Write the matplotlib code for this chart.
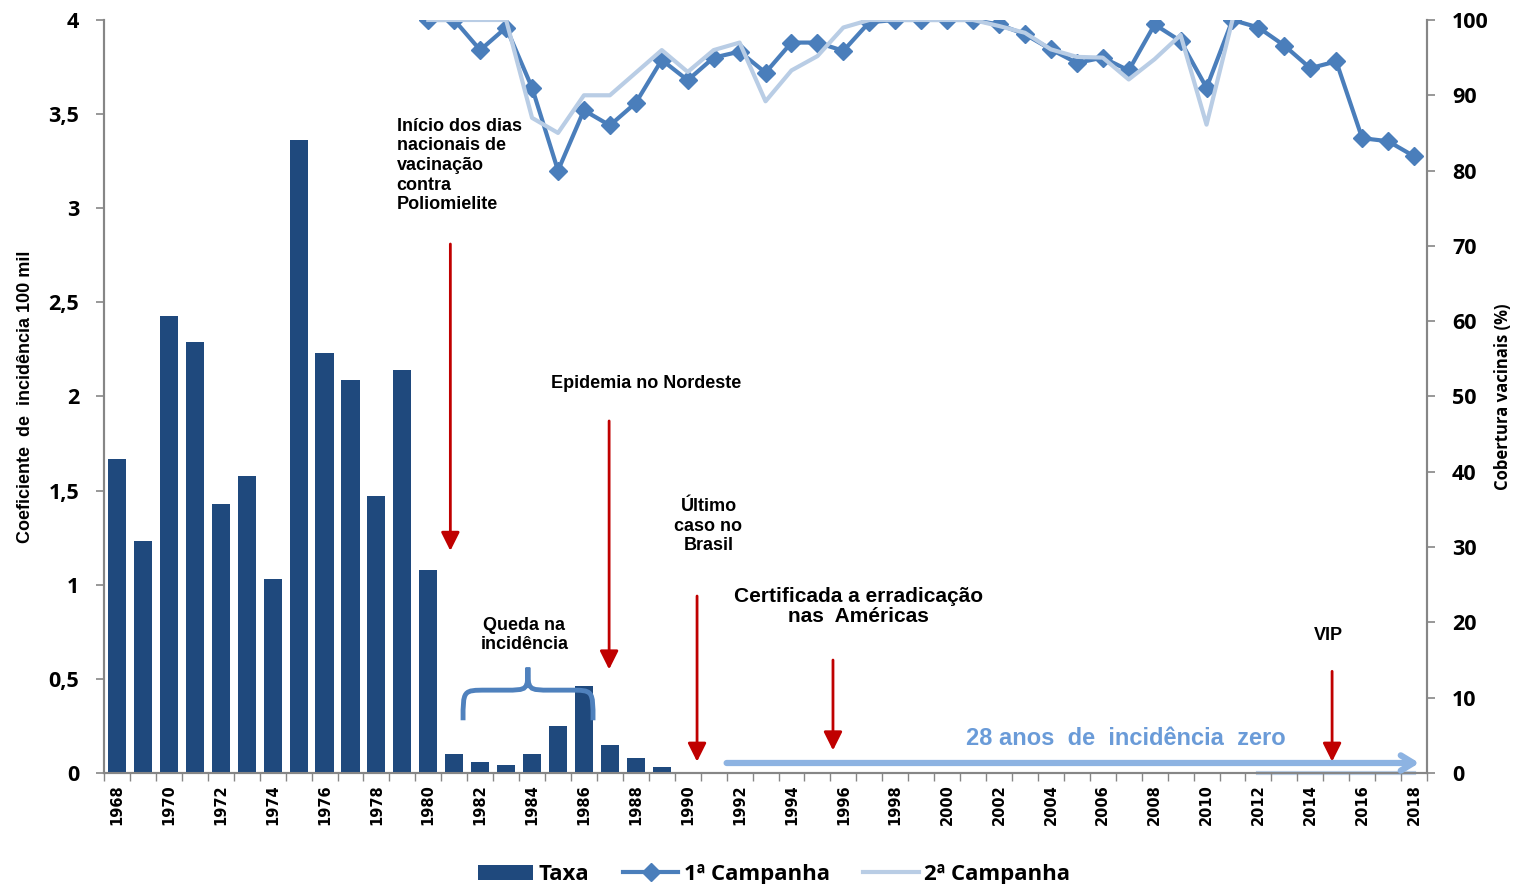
import numpy as np
import matplotlib
matplotlib.use('Agg')
import matplotlib.pyplot as plt
from matplotlib.path import Path
from matplotlib.patches import PathPatch

years = list(range(1968, 2019))

# incidence rate per 100 mil (1968-1989)
taxa = [1.67, 1.23, 2.43, 2.29, 1.43, 1.58, 1.03, 3.36, 2.23, 2.09, 1.47, 2.14,
        1.08, 0.10, 0.06, 0.04, 0.10, 0.25, 0.46, 0.15, 0.08, 0.03]

# coverage (%) 1980-2018
camp1 = [100, 100, 96, 99, 91, 80, 88, 86, 89, 94.7, 92, 95, 95.8, 93, 97, 97,
         95.9, 99.7, 100, 100, 100, 100, 99.4, 98.1, 96.1, 94.3, 95, 93.3, 99.4,
         97.2, 91, 100, 99, 96.6, 93.6, 94.5, 84.3, 83.9, 81.9]

# 2ª campanha 1980-2011, then zeros 2012-2018
camp2 = [100, 100, 100, 100, 87, 85, 90, 90, 93, 96, 93.1, 96, 97, 89.2, 93.3,
         95.2, 99, 100, 100, 100, 100, 100, 99.2, 98.3, 96.1, 95.1, 95, 92.1,
         94.8, 98, 86.1, 100]
camp2_zero = [0, 0, 0, 0, 0, 0, 0]

bar_color = '#1f497d'
c1 = '#4a7ebb'
c2 = '#b9cde5'
red = '#c00000'
grey = '#868686'
tick_font = 'Open Sans'

fig = plt.figure(figsize=(15.3, 8.84), dpi=100)
ax = fig.add_axes([0.068, 0.1256, 0.8647, 0.8518])
ax2 = ax.twinx()

x = np.arange(len(years))
ax.bar(x[:len(taxa)], taxa, width=0.7, color=bar_color, label='Taxa', zorder=2)

x1 = x[years.index(1980):]
ax2.plot(x1, camp1, color=c1, lw=3, marker='D', ms=9, label='1ª Campanha', zorder=3)
x2 = x[years.index(1980):years.index(1980) + len(camp2)]
ax2.plot(x2, camp2, color=c2, lw=3, label='2ª Campanha', zorder=4)
x2z = x[years.index(2012):]
ax2.plot(x2z, camp2_zero, color=c2, lw=3, zorder=4, clip_on=False)

ax.set_xlim(-0.5, len(years) - 0.5)
ax.set_ylim(0, 4)
ax2.set_ylim(0, 100)
ax.set_zorder(ax2.get_zorder() + 1)
ax.patch.set_visible(False)

yt = np.arange(0, 4.01, 0.5)
ax.set_yticks(yt)
ax.set_yticklabels([('%g' % v).replace('.', ',') for v in yt],
                   fontfamily=tick_font, fontweight='bold', fontsize=15.5)
ax2.set_yticks(range(0, 101, 10))
ax2.set_yticklabels([str(v) for v in range(0, 101, 10)],
                    fontfamily=tick_font, fontweight='bold', fontsize=15.5)

ax.set_xticks(x[::2])
ax.set_xticklabels([str(y) for y in years[::2]], rotation=90,
                   fontweight='bold', fontsize=10.5)
ax.set_xticks(np.arange(-0.5, len(years), 1), minor=True)
ax.tick_params(axis='x', which='major', length=0, pad=8)
ax.tick_params(axis='x', which='minor', length=6, color=grey, width=1)
ax.tick_params(axis='y', length=6, color=grey, width=1.2, pad=12)
ax2.tick_params(axis='y', length=6, color=grey, width=1.2, pad=12)

for a in (ax, ax2):
    a.spines['top'].set_visible(False)
    for s in ('left', 'right', 'bottom'):
        a.spines[s].set_color(grey)
        a.spines[s].set_linewidth(1.5)

ax.set_ylabel('Coeficiente  de  incidência 100 mil', fontfamily='Liberation Sans',
              fontweight='bold', fontsize=13, labelpad=10)
ax2.set_ylabel('Cobertura vacinais (%)', fontfamily=tick_font,
               fontweight='bold', fontsize=12, labelpad=4)

# annotations
txt = dict(fontfamily='Liberation Sans', fontweight='bold', color='black')
ax.text(10.78, 3.48, 'Início dos dias\nnacionais de\nvacinação\ncontra\nPoliomielite',
        ha='left', va='top', fontsize=13, linespacing=1.2, **txt)
ax.text(20.4, 2.07, 'Epidemia no Nordeste', ha='center', va='center', fontsize=13, **txt)
ax.text(22.8, 1.46, 'Último\ncaso no\nBrasil', ha='center', va='top', fontsize=13,
        linespacing=1.2, **txt)
ax.text(28.6, 0.99, 'Certificada a erradicação\nnas  Américas', ha='center', va='top',
        fontsize=15, linespacing=1.1, **txt)
ax.text(46.7, 0.73, 'VIP', ha='center', va='center', fontsize=13, **txt)
ax.text(15.7, 0.83, 'Queda na\nincidência', ha='center', va='top', fontsize=13,
        linespacing=1.2, **txt)
ax.text(38.9, 0.185, '28 anos  de  incidência  zero', ha='center', va='center',
        fontsize=17, fontfamily='Liberation Sans', fontweight='bold', color='#6a9bd8')

arrow = dict(arrowstyle='-|>', color=red, lw=2, mutation_scale=28, shrinkA=0, shrinkB=0)
for xa, y0, y1 in [(12.85, 2.81, 1.18), (18.97, 1.87, 0.55), (22.36, 0.94, 0.06),
                   (27.6, 0.60, 0.12), (46.84, 0.54, 0.06)]:
    ax.annotate('', xy=(xa, y1), xytext=(xa, y0), arrowprops=arrow)

ax.annotate('', xy=(50.2, 0.053), xytext=(23.5, 0.053),
            arrowprops=dict(arrowstyle='->, head_length=0.9, head_width=0.55',
                            color='#8db3e2', lw=4.5, shrinkA=0, shrinkB=0),
            annotation_clip=False)

# brace over 1981-1986
xl, xm, xr = 13.34, 15.84, 18.35
yb, yh, yt_ = 0.28, 0.44, 0.56
verts = [(xl, yb), (xl, yh), (xl, yh), (xl + 0.9, yh),
         (xm - 0.9, yh),
         (xm, yh), (xm, yh), (xm, yt_),
         (xm, yh), (xm, yh), (xm + 0.9, yh),
         (xr - 0.9, yh),
         (xr, yh), (xr, yh), (xr, yb)]
codes = [Path.MOVETO, Path.CURVE4, Path.CURVE4, Path.CURVE4,
         Path.LINETO,
         Path.CURVE4, Path.CURVE4, Path.CURVE4,
         Path.CURVE4, Path.CURVE4, Path.CURVE4,
         Path.LINETO,
         Path.CURVE4, Path.CURVE4, Path.CURVE4]
ax.add_patch(PathPatch(Path(verts, codes), fill=False, edgecolor='#4f81bd', lw=3.5, zorder=5))

h1, l1 = ax.get_legend_handles_labels()
h2, l2 = ax2.get_legend_handles_labels()
fig.legend(h1 + h2, l1 + l2, loc='lower center', bbox_to_anchor=(0.506, -0.024), ncol=3,
           frameon=False, prop={'family': tick_font, 'weight': 'bold', 'size': 16},
           handlelength=2.5, columnspacing=1.5, handletextpad=0.25)

fig.savefig('out.png', dpi=100)
